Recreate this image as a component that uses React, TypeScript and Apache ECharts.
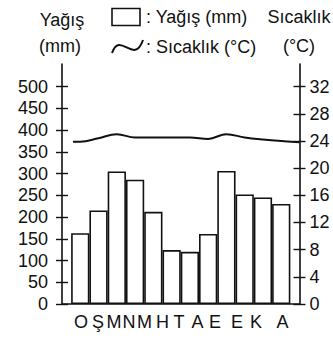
import React, { useEffect, useRef } from "react";
import * as echarts from "echarts";

// ---- data ----
const MONTHS = ["O", "Ş", "M", "N", "M", "H", "T", "A", "E", "E", "K", "A"];
const RAIN_MM = [163, 215, 305, 286, 212, 124, 120, 161, 306, 252, 245, 230];
const TEMP_C = [23.9, 24.4, 25.0, 24.5, 24.5, 24.5, 24.5, 24.3, 25.0, 24.5, 24.2, 24.0];
const TEMP_START = 23.9;
const TEMP_END = 23.8;
const RAIN_TICKS = [0, 50, 100, 150, 200, 250, 300, 350, 400, 450, 500];
const TEMP_TICKS = [0, 4, 8, 12, 16, 20, 24, 28, 32];

// ---- style ----
const FONT = '"Liberation Sans", Arial, sans-serif';
const INK = "#111";
const LEFT_MAX = 552;
const RIGHT_MAX = (LEFT_MAX * 32) / 500;
// horizontal nudges (px) of each month label, as printed
const LABEL_NUDGE = [0, 0.7, -0.5, -2.8, -6.1, -8.9, -9.1, -10.9, -10.7, -11.5, -7.7, -7, 1.2, 0];

export default function App() {
  const ref = useRef<HTMLDivElement>(null);
  useEffect(() => {
    if (!ref.current) return;
    const chart = echarts.init(ref.current, null, { renderer: "svg" });
    const cats = ["", ...MONTHS, ""];
    const rich: Record<string, any> = {};
    LABEL_NUDGE.forEach((d, i) => {
      rich["n" + i] = {
        fontSize: 18,
        fontFamily: FONT,
        color: INK,
        padding: d < 0 ? [0, -2 * d, 0, 0] : [0, 0, 0, 2 * d],
      };
    });
    const lineData: [number, number][] = [[0.6, TEMP_START]];
    TEMP_C.forEach((t, i) => lineData.push([i + 1, t]));
    lineData.push([MONTHS.length + 1, TEMP_END]);

    const yBase = (side: "left" | "right", max: number, ticks: number[], margin: number) => ({
      type: "value",
      position: side,
      min: 0,
      max,
      axisLine: { show: true, lineStyle: { color: INK, width: 1.6 } },
      axisTick: { show: true, length: 6, customValues: ticks, lineStyle: { color: INK, width: 1.4 } },
      axisLabel: {
        show: true,
        customValues: ticks,
        margin,
        fontSize: 18,
        fontFamily: FONT,
        color: INK,
      },
      splitLine: { show: false },
    });
    const yInner = (side: "left" | "right", max: number, ticks: number[]) => ({
      type: "value",
      position: side,
      min: 0,
      max,
      axisLine: { show: false },
      axisTick: { show: true, inside: true, length: 6, customValues: ticks, lineStyle: { color: INK, width: 1.4 } },
      axisLabel: { show: false },
      splitLine: { show: false },
    });

    chart.setOption({
      animation: false,
      backgroundColor: "#fff",
      grid: { left: 62, right: 33.5, top: 64, bottom: 35, containLabel: false },
      xAxis: [
        {
          type: "category",
          data: cats,
          boundaryGap: false,
          axisLine: { show: true, lineStyle: { color: INK, width: 1.6 } },
          axisTick: { show: false },
          axisLabel: {
            interval: 0,
            margin: 9,
            formatter: (v: string, i: number) => (v ? `{n${i}|${v}}` : ""),
            rich,
          },
          splitLine: { show: false },
        },
        { type: "value", min: 0, max: MONTHS.length + 1, show: false },
      ],
      yAxis: [
        yBase("left", LEFT_MAX, RAIN_TICKS, 14),
        yBase("right", RIGHT_MAX, TEMP_TICKS, 10),
        yInner("left", LEFT_MAX, RAIN_TICKS),
        yInner("right", RIGHT_MAX, TEMP_TICKS),
      ],
      series: [
        {
          type: "bar",
          xAxisIndex: 0,
          yAxisIndex: 0,
          data: ["-", ...RAIN_MM, "-"],
          barCategoryGap: "0%",
          itemStyle: { color: "#fff", borderColor: INK, borderWidth: 1.6 },
        },
        {
          type: "line",
          xAxisIndex: 1,
          yAxisIndex: 1,
          data: lineData,
          smooth: 0.4,
          symbol: "none",
          lineStyle: { color: INK, width: 2 },
        },
      ],
      graphic: [
        { type: "text", style: { text: "Yağış", x: 62, y: 20, align: "center", verticalAlign: "middle", font: `18px ${FONT}`, fill: INK } },
        { type: "text", style: { text: "(mm)", x: 60, y: 46, align: "center", verticalAlign: "middle", font: `18px ${FONT}`, fill: INK } },
        { type: "text", style: { text: "Sıcaklık", x: 299, y: 17, align: "center", verticalAlign: "middle", font: `18px ${FONT}`, fill: INK } },
        { type: "text", style: { text: "(°C)", x: 299, y: 46, align: "center", verticalAlign: "middle", font: `18px ${FONT}`, fill: INK } },
        { type: "rect", shape: { x: 112, y: 8.5, width: 28, height: 17 }, style: { fill: "#fff", stroke: INK, lineWidth: 1.6 } },
        { type: "text", style: { text: ": Yağış (mm)", x: 146, y: 17, align: "left", verticalAlign: "middle", font: `18px ${FONT}`, fill: INK } },
        {
          type: "bezierCurve",
          shape: { x1: 112, y1: 53, cpx1: 120, cpy1: 30, cpx2: 134, cpy2: 66, x2: 143, y2: 40 },
          style: { stroke: INK, lineWidth: 2, fill: "none" },
        },
        { type: "text", style: { text: ": Sıcaklık (°C)", x: 146, y: 47, align: "left", verticalAlign: "middle", font: `18px ${FONT}`, fill: INK } },
      ],
    });
    return () => chart.dispose();
  }, []);
  return <div ref={ref} style={{ position: "absolute", left: 0, top: 0, width: 333, height: 339 }} />;
}
